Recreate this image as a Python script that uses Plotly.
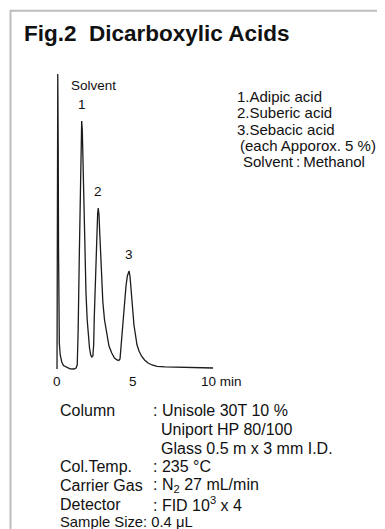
import plotly.graph_objects as go

# ---------------- data ----------------
time_min = [0.02, 0.07, 0.10, 0.12, 0.15, 0.17, 0.23, 0.33, 0.44, 0.65, 0.87, 1.13, 1.26, 1.34,
            1.40, 1.47, 1.54, 1.59, 1.63,
            1.67, 1.71, 1.78, 1.85, 1.91, 1.99, 2.06, 2.14, 2.22, 2.29, 2.36,
            2.41, 2.45, 2.51, 2.56, 2.62, 2.67, 2.71,
            2.76, 2.80, 2.87, 2.94, 3.01, 3.12, 3.26, 3.41, 3.59, 3.77, 3.93, 4.05, 4.13,
            4.23, 4.33, 4.42, 4.52, 4.61, 4.68, 4.72,
            4.78, 4.87, 4.96, 5.04, 5.13, 5.24, 5.37, 5.53, 5.73, 5.96, 6.22, 6.54, 7.07,
            8.04, 9.02, 10.20]
signal = [-1, 294, 218, 118, 48, 25, 13, 6, 2.5, 0.5, -0.8, -1, 0, 3,
          38, 108, 178, 228, 247,
          238, 208, 158, 113, 75, 48, 31, 20, 13, 11, 12,
          23, 50, 83, 110, 136, 154, 160,
          153, 138, 108, 83, 66, 48, 33, 22, 15, 10, 8, 7.5, 9,
          28, 50, 68, 82, 92, 97, 97,
          92, 78, 58, 43, 32, 23, 17, 12, 8, 5, 3, 1.7, 1.2,
          0.8, 0.4, 0]

peak_names = ["1", "2", "3"]
peak_times = [1.63, 2.71, 4.70]
peak_heights = [247, 160, 97]
solvent_label = "Solvent"

tick_values = [0, 5, 10]
tick_labels = ["0", "5", "10 min"]

title_text = "Fig.2\u00a0\u00a0Dicarboxylic Acids"
legend_lines = ["1.Adipic acid", "2.Suberic acid", "3.Sebacic acid",
                "(each Apporox. 5 %)", "Solvent\u2009:\u2009Methanol"]

cond_labels = ["Column", "", "", "Col.Temp.", "Carrier Gas", "Detector", "Sample Size"]
cond_values = [": Unisole 30T 10 %", "Uniport HP 80/100", "Glass 0.5 m x 3 mm I.D.",
               ": 235 °C", ": N<sub>2</sub> 27 mL/min", ": FID 10<sup>3</sup> x 4", ": 0.4 μL"]

# ---------------- layout constants (pixels in the 385x529 window) ----------------
OFF = 8                    # default page body margin
W, H = 385 - OFF, 529 - OFF
FONT = "Liberation Sans, Arial, Helvetica, sans-serif"
X0_PX, PX_PER_MIN = 56.7, 15.33
BASE_PX = 368.0
DOM_X = (40, 250)
DOM_Y = (60, 392)


def px(x):
    return (x - OFF) / W


def py(y):
    return 1 - (y - OFF) / H


fig = go.Figure()
fig.add_trace(go.Scatter(
    x=time_min, y=signal, mode="lines",
    line=dict(color="#1c1c1c", width=1.3),
    hoverinfo="skip", showlegend=False,
))

annotations = []
# peak labels
for name, t, h in zip(peak_names, peak_times, peak_heights):
    annotations.append(dict(x=t, y=h, xref="x", yref="y", text=name, showarrow=False,
                            yanchor="bottom", yshift=7, font=dict(size=13.5)))
annotations.append(dict(x=px(93), y=py(85), xref="paper", yref="paper", text=solvent_label,
                        showarrow=False, xanchor="center", yanchor="middle", font=dict(size=13.5)))
# tick labels
for v, lab in zip(tick_values, tick_labels):
    if lab.endswith("min"):
        annotations.append(dict(x=v, y=BASE_PX - 381, xref="x", yref="y", text=lab, showarrow=False,
                                xanchor="left", xshift=-11, yanchor="middle", font=dict(size=13.5)))
    else:
        annotations.append(dict(x=v, y=BASE_PX - 381, xref="x", yref="y", text=lab, showarrow=False,
                                xanchor="center", yanchor="middle", font=dict(size=13.5)))
# title
annotations.append(dict(x=px(22), y=py(33), xref="paper", yref="paper", text="<b>" + title_text + "</b>",
                        showarrow=False, xanchor="left", yanchor="middle", font=dict(size=22.5)))
# legend block
leg_x = [235, 235, 235, 237.5, 240.5]
leg_y = [96.7, 112.8, 129.2, 145.6, 161.8]
for t, x, y in zip(legend_lines, leg_x, leg_y):
    annotations.append(dict(x=px(x), y=py(y), xref="paper", yref="paper", text=t, showarrow=False,
                            xanchor="left", yanchor="middle", font=dict(size=15)))
# conditions block
row_y = [410, 429, 448.3, 466.8, 485.5, 504, 522.3]
val_x = [150.5, 159, 159, 150.5, 150.5, 150.5, 141]
row_size = [16, 16, 16, 16, 16, 16, 14.8]
for lab, val, y, vx, fs in zip(cond_labels, cond_values, row_y, val_x, row_size):
    if lab:
        annotations.append(dict(x=px(57.5), y=py(y), xref="paper", yref="paper", text=lab,
                                showarrow=False, xanchor="left", yanchor="middle", font=dict(size=fs)))
    annotations.append(dict(x=px(vx), y=py(y), xref="paper", yref="paper", text=val,
                            showarrow=False, xanchor="left", yanchor="middle", font=dict(size=fs)))

fig.update_layout(
    width=W, height=H,
    margin=dict(l=0, r=0, t=0, b=0),
    paper_bgcolor="white", plot_bgcolor="white",
    font=dict(family=FONT, color="#111111"),
    xaxis=dict(domain=[px(DOM_X[0]), px(DOM_X[1])],
               range=[(DOM_X[0] - X0_PX) / PX_PER_MIN, (DOM_X[1] - X0_PX) / PX_PER_MIN],
               visible=False, fixedrange=True),
    yaxis=dict(domain=[py(DOM_Y[1]), py(DOM_Y[0])],
               range=[BASE_PX - DOM_Y[1], BASE_PX - DOM_Y[0]],
               visible=False, fixedrange=True),
    annotations=annotations,
    shapes=[dict(type="rect", xref="paper", yref="paper",
                 x0=px(10.5), x1=1.3, y0=-0.3, y1=py(10.8),
                 line=dict(color="#bdbdbd", width=2), fillcolor="rgba(0,0,0,0)", layer="below")],
)

fig.write_html("out.html", config={"displayModeBar": False})
